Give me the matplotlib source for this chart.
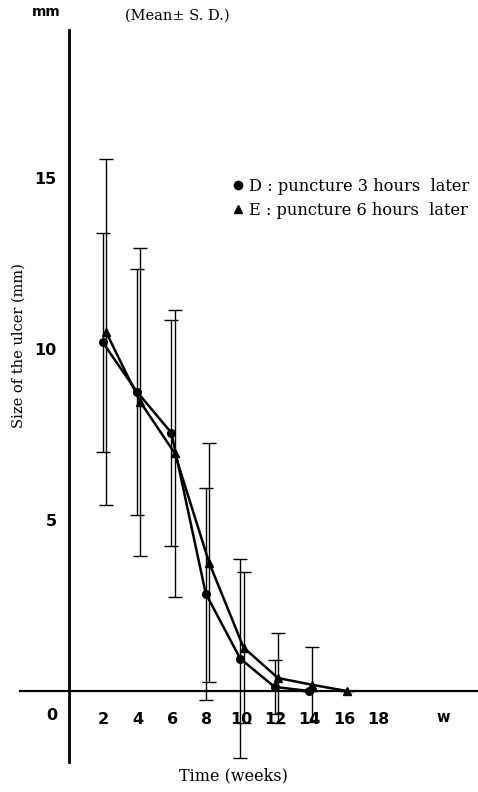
import matplotlib.pyplot as plt
from matplotlib.lines import Line2D

# ulcer size (mm), mean and S.D.
weeks_d = [2, 4, 6, 8, 10, 12, 14]
size_d = [10.2, 8.75, 7.55, 2.85, 0.95, 0.12, 0.0]
sd_d = [3.2, 3.6, 3.3, 3.1, 2.9, 0.8, 0.0]

weeks_e = [2, 4, 6, 8, 10, 12, 14, 16]
size_e = [10.5, 8.45, 6.95, 3.75, 1.27, 0.38, 0.18, 0.0]
sd_e = [5.05, 4.5, 4.2, 3.5, 2.2, 1.32, 1.1, 0.0]

x_ticks = [2, 4, 6, 8, 10, 12, 14, 16, 18]
y_ticks = [5, 10, 15]

W, H = 478, 792
x0, px_x = 69, 17.2   # pixel of week 0, pixels per week
y0, px_y = 691, 34.2  # pixel of 0 mm, pixels per mm

fig = plt.figure(figsize=(W / 100, H / 100), dpi=100)
ax = fig.add_axes([0, 0, 1, 1])
ax.set_xlim(-x0 / px_x, (W - x0) / px_x)
ax.set_ylim(-(H - y0) / px_y, y0 / px_y)

# E points sit a little to the right of D in the original
shift = 0.15
ax.errorbar([w - 0.05 for w in weeks_d], size_d, yerr=sd_d, color='black', lw=1.8,
            marker='o', ms=5.5, elinewidth=1.0, capsize=4.8, capthick=1.0, zorder=3)
ax.errorbar([w + shift for w in weeks_e], size_e, yerr=sd_e, color='black', lw=1.8,
            marker='^', ms=5.5, elinewidth=1.0, capsize=4.8, capthick=1.0, zorder=3)

for s in ['top', 'right']:
    ax.spines[s].set_visible(False)
ax.spines['left'].set_position(('data', 0))
ax.spines['bottom'].set_position(('data', 0))
ax.spines['left'].set_bounds(-(762 - y0) / px_y, (y0 - 30) / px_y)
ax.spines['bottom'].set_bounds((20 - x0) / px_x, (W - x0) / px_x)
ax.spines['left'].set_linewidth(2.0)
ax.spines['bottom'].set_linewidth(1.6)

ax.set_xticks(x_ticks)
ax.set_yticks(y_ticks)
ax.tick_params(axis='x', length=0, pad=15, labelsize=11.5)
ax.tick_params(axis='y', length=0, pad=9, labelsize=11.5)
for lab in ax.get_xticklabels() + ax.get_yticklabels():
    lab.set_fontweight('bold')

sans = dict(family='DejaVu Sans', fontweight='bold')
serif = dict(family='DejaVu Serif')
ax.text((52 - x0) / px_x, (y0 - 715) / px_y, '0', ha='center', va='center', fontsize=11.5, **sans)
ax.text((443 - x0) / px_x, (y0 - 717) / px_y, 'w', ha='center', va='center', fontsize=10.5, **sans)
fig.text(46 / W, 1 - 12 / H, 'mm', ha='center', va='center', fontsize=10, **sans)
fig.text(125 / W, 1 - 16 / H, '(Mean\u00b1 S. D.)', ha='left', va='center', fontsize=10.5, **serif)
fig.text(19 / W, 1 - 346 / H, 'Size of the ulcer (mm)', rotation=90, ha='center', va='center',
         fontsize=10.5, **serif)
fig.text(233 / W, 1 - 776 / H, 'Time (weeks)', ha='center', va='center', fontsize=11.5, **serif)

handles = [Line2D([], [], color='black', marker='o', ls='none', ms=6),
           Line2D([], [], color='black', marker='^', ls='none', ms=6)]
ax.legend(handles, ['D : puncture 3 hours  later', 'E : puncture 6 hours  later'],
          loc='upper left', bbox_to_anchor=(225 / W, 1 - 170 / H), bbox_transform=fig.transFigure,
          frameon=False, handlelength=0.6, handletextpad=0.4, labelspacing=0.4,
          borderpad=0, prop={'family': 'DejaVu Serif', 'size': 11.7})

plt.savefig('out.png', dpi=100)
